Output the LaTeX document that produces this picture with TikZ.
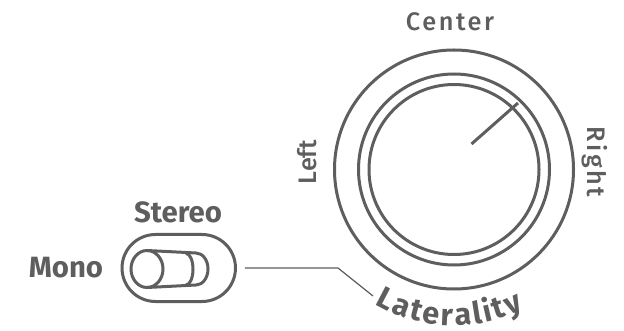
\documentclass[tikz,border=0pt]{standalone}
\usepackage{fontspec}
\setmainfont{Fira Sans}
\newfontfamily\dialfont{Fira Sans Medium}
\usetikzlibrary{decorations.text}
\definecolor{knobgray}{HTML}{5E5E5E}
\tikzset{
  dial/.style={draw=knobgray, line width=2.25pt},
  thinlead/.style={draw=knobgray, line width=0.9pt},
  dialtext/.style={text=knobgray, inner sep=0.75pt, font=\dialfont\fontsize{19}{22}\selectfont},
  spaced/.style={font=\dialfont\fontsize{19}{22}\selectfont\addfontfeature{LetterSpace=10}},
  switchtext/.style={text=knobgray, inner sep=0.75pt, font=\fontsize{22}{26}\selectfont\bfseries},
}
\begin{document}
\begin{tikzpicture}[x=0.75pt,y=0.75pt,yscale=-1,xscale=1]
\useasboundingbox (0,0) rectangle (624,331);
% knob
\coordinate (knob) at (454,169.5);
\draw [dial] (knob) circle (119.5);
\draw [dial] (knob) circle (95.5);
\draw [dial] (knob) circle (85);
\draw [dial] (471.5,144) -- (518,103);
\node [dialtext, spaced] (center) at (450,22) {Center};
\node [dialtext, spaced, rotate=-90] (right) at (595,162) {Right};
\node [dialtext, rotate=90] (left) at (307,162) {Left};
% label round the bottom of the knob
\path [decorate, decoration={text along path, text align=fit to path, text color=knobgray,
  text={|\fontsize{23}{26}\selectfont\bfseries|Laterality}}]
  (knob) ++(120.5:156) arc [start angle=120.5, end angle=63.5, radius=156];
\coordinate (latend) at (373,296);
% switch
\node [dial, rounded corners=25.1pt, minimum width=85.1pt, minimum height=50.25pt, inner sep=0pt] (switch) at (178.75,268) {};
\draw [dial] (147,269) ellipse [x radius=16, y radius=18.5];
\draw [dial] (147,250.5) -- (196,253) arc [start angle=-90, end angle=90, x radius=12, y radius=16] -- (147,287.5);
\draw [dial] (186,253.4) arc [start angle=-90, end angle=90, x radius=7, y radius=15.8];
\node [switchtext] (stereo) at (178,212) {Stereo};
\node [switchtext] (mono) at (66,268) {Mono};
\draw [thinlead] ([xshift=6pt]switch.east) -- ++(93,0) -- (latend);
\end{tikzpicture}
\end{document}
